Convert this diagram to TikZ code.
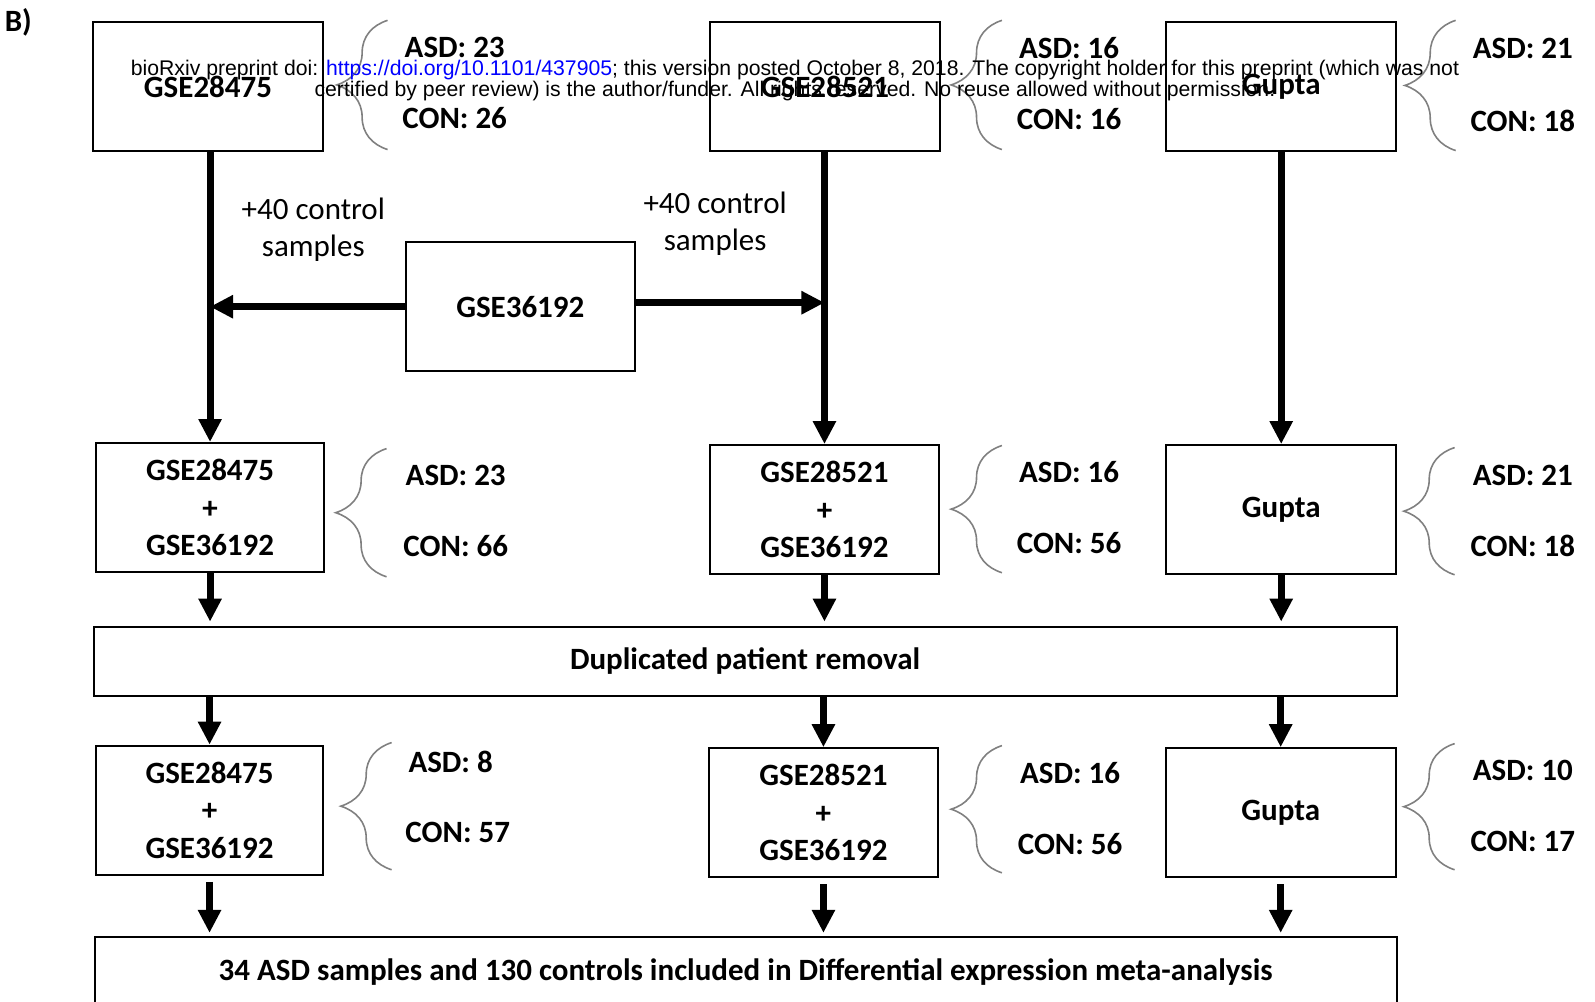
\documentclass[tikz,border=0pt]{standalone}
\usepackage{fontspec}
\setmainfont{Carlito}
\newfontfamily\arialfont{Liberation Sans}
\usetikzlibrary{arrows.meta,decorations.pathreplacing}
\def\unitpx{0.5086pt}

\begin{document}
\begin{tikzpicture}[x=\unitpx, y=-\unitpx,
  box/.style={draw, line width=1pt, inner sep=0pt, align=center,
    font=\bfseries\fontsize{15.5}{18.8}\selectfont,
    minimum width=226*\unitpx, minimum height=127*\unitpx},
  count/.style={font=\bfseries\fontsize{15.5}{18.8}\selectfont},
  flow/.style={line width=3.5pt, -{Triangle[length=11.5pt,width=11pt]}},
  curly/.style={draw=gray, line width=0.8pt, decorate,
    decoration={brace, amplitude=50*\unitpx}}]
  \clip (0,0) rectangle (1568,985);
  \node[count] (panel) at (18,22) {B)};

  \node[box] (gse28475) at (204.5,85) {GSE28475};
  \node[box] (gse28521) at (811,85) {GSE28521};
  \node[box] (gupta) at (1259.5,85) {Gupta};
  \node[box, minimum width=225*\unitpx] (gse36192) at (511.5,301.5) {GSE36192};
  \node[align=center, font=\fontsize{15.5}{18.5}\selectfont] (extra1) at (308,226) {+40 control\\samples};
  \node[align=center, font=\fontsize{15.5}{18.5}\selectfont] (extra2) at (703,220) {+40 control\\samples};

  \node[box, minimum width=225*\unitpx] (merged28475) at (206.5,499) {GSE28475\\+\\GSE36192};
  \node[box, minimum width=225*\unitpx] (merged28521) at (810.5,501) {GSE28521\\+\\GSE36192};
  \node[box] (mergedgupta) at (1259.5,501) {Gupta};

  \node[box, minimum width=1281*\unitpx, minimum height=68*\unitpx] (dedup) at (732.5,650) {Duplicated patient removal};

  \node[box, minimum width=224*\unitpx] (clean28475) at (206,796.5) {GSE28475\\+\\GSE36192};
  \node[box, minimum width=225*\unitpx] (clean28521) at (809.5,799) {GSE28521\\+\\GSE36192};
  \node[box] (cleangupta) at (1259,799) {Gupta};

  \node[box, anchor=north, minimum width=1280*\unitpx, minimum height=70*\unitpx] (meta) at (733,920)
    {34 ASD samples and 130 controls included in Differential expression meta-analysis};

  % arrows
  \draw[flow] (gse28475.south -| merged28475.north) -- (merged28475.north);
  \draw[flow] (gse28521.south -| merged28521.north) -- (merged28521.north);
  \draw[flow] (gupta.south -| mergedgupta.north) -- (mergedgupta.north);
  \draw[flow] (gse36192.west) -- (gse36192.west -| merged28475.north);
  \draw[flow] ([yshift=2pt]gse36192.east) -- ([yshift=2pt]gse36192.east -| merged28521.north);

  \draw[flow, shorten >=2pt] (merged28475.south) -- (merged28475.south |- dedup.north);
  \draw[flow, shorten >=2pt] (merged28521.south) -- (merged28521.south |- dedup.north);
  \draw[flow, shorten >=2pt] (mergedgupta.south) -- (mergedgupta.south |- dedup.north);

  \draw[flow] (dedup.south -| clean28475.north) -- (clean28475.north);
  \draw[flow] (dedup.south -| clean28521.north) -- (clean28521.north);
  \draw[flow] (dedup.south -| cleangupta.north) -- (cleangupta.north);

  \draw[flow, shorten <=3pt, shorten >=1.5pt] (clean28475.south) -- (clean28475.south |- meta.north);
  \draw[flow, shorten <=3pt, shorten >=1.5pt] (clean28521.south) -- (clean28521.south |- meta.north);
  \draw[flow, shorten <=3pt, shorten >=1.5pt] (cleangupta.south) -- (cleangupta.south |- meta.north);

  % braces and counts
  \draw[curly] (381,147) -- (381,20);
  \draw[curly] (985,147) -- (985,20);
  \draw[curly] (1431,148) -- (1431,20);
  \draw[curly] (380,567) -- (380,441);
  \draw[curly] (985,563) -- (985,438);
  \draw[curly] (1430,565) -- (1430,440);
  \draw[curly] (385,855) -- (385,730);
  \draw[curly] (985,858) -- (985,733);
  \draw[curly] (1430,855) -- (1430,731);

  \node[count] (asd1) at (447,47) {ASD: 23};
  \node[count] (con1) at (447,116) {CON: 26};
  \node[count] (asd2) at (1051,47) {ASD: 16};
  \node[count] (con2) at (1051,117) {CON: 16};
  \node[count] (asd3) at (1497,48) {ASD: 21};
  \node[count] (con3) at (1497,119) {CON: 18};
  \node[count] (asd4) at (448,467) {ASD: 23};
  \node[count] (con4) at (448,537) {CON: 66};
  \node[count] (asd5) at (1051,464) {ASD: 16};
  \node[count] (con5) at (1051,534) {CON: 56};
  \node[count] (asd6) at (1497,467) {ASD: 21};
  \node[count] (con6) at (1497,537) {CON: 18};
  \node[count] (asd7) at (443,749) {ASD: 8};
  \node[count] (con7) at (450,818) {CON: 57};
  \node[count] (asd8) at (1052,760) {ASD: 16};
  \node[count] (con8) at (1052,830) {CON: 56};
  \node[count] (asd9) at (1497,757) {ASD: 10};
  \node[count] (con9) at (1497,827) {CON: 17};

  \node[align=center, font=\arialfont\fontsize{10.6}{10.2}\selectfont] (notice) at (781.5,79)
    {bioRxiv preprint doi: \textcolor{blue}{https://doi.org/10.1101/437905}; this version posted October 8, 2018. The copyright holder for this preprint (which was not\\
     certified by peer review) is the author/funder. All rights reserved. No reuse allowed without permission.};
\end{tikzpicture}
\end{document}
